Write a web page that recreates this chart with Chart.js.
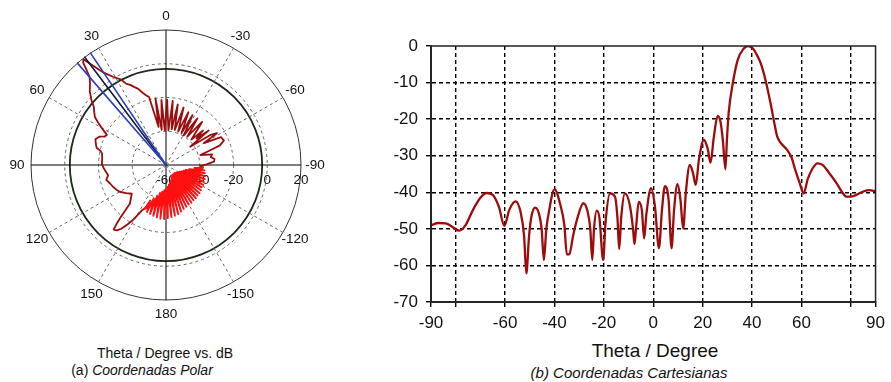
<!DOCTYPE html>
<html>
<head>
<meta charset="utf-8">
<script src="https://cdn.jsdelivr.net/npm/chart.js@4.4.1/dist/chart.umd.min.js"></script>
<style>
  html, body { margin: 0; padding: 0; background: #fff; }
  body { width: 891px; height: 382px; position: relative; overflow: hidden;
         font-family: "Liberation Sans", Arial, sans-serif; color: #111; }
  canvas { position: absolute; }
  #polar { left: 0; top: 0; }
  #cart { left: 380px; top: 0; }
  .txt { position: absolute; white-space: nowrap; line-height: 1; transform: translateX(-50%); }
</style>
</head>
<body>
<canvas id="polar" width="332" height="330"></canvas>
<canvas id="cart" width="511" height="340"></canvas>
<div class="txt" style="left:165px; top:346px; font-size:14px;">Theta / Degree vs. dB</div>
<div class="txt" style="left:142px; top:363px; font-size:14px;">(a) <i>Coordenadas Polar</i></div>
<div class="txt" style="left:655px; top:341px; font-size:19px;">Theta / Degree</div>
<div class="txt" style="left:629px; top:365px; font-size:15px;"><i>(b) Coordenadas Cartesianas</i></div>
<script>
// polar cut, theta in degrees (positive = counter clockwise from top)
const polar_Min = -60;
const polar_Max = 20;
const polar_Rings = [-60, -40, -20, 0, 20];
const half_Power_Db = -3;
const angle_Ticks = [0, 30, 60, 90, 120, 150, 180, -150, -120, -90, -60, -30];

const dark_Theta = [
  -94, -92, -89, -86, -83, -80, -77, -74, -72, -70, -67, -63, -60, -58, -56, -53, -51, -49, -47, -45,
  -40, -37, -34, -31, -28, -26, -23, -20, -17, -14, -11, -9, -6, -4, -1, 2, 4, 7, 9, 11,
  14, 16, 18, 20, 22, 24, 26, 28, 31, 34, 36, 38, 39, 40, 41, 43, 46, 49, 51, 54,
  56, 58, 60, 63, 65, 67, 70, 73, 76, 78, 80, 84, 89, 92, 96, 100, 104, 108, 112, 116,
  120, 125, 130, 134, 137, 139, 140, 141, 143, 145, 147, 149, 151, 152
];
const dark_Db = [
  -38, -39.5, -36, -31.5, -31, -33, -32, -38.8, -34, -26, -22.7, -23.5, -34, -24.4, -28, -42, -27.4, -36, -30, -38.7,
  -26.7, -39, -26.7, -39.5, -26.5, -39, -26, -39, -24.5, -38.5, -23.5, -38.5, -21.8, -39.5, -21.2, -39.5, -21.4, -39, -20.1, -37,
  -18.5, -17, -15, -12, -10.2, -8, -6.5, -2.5, 1, 6, 12, 19.5, 18, 13, 9, 6, 2.8, -1.5, -4.9, -7.5,
  -9.2, -12.5, -16, -20.7, -20, -17, -15.5, -16.5, -17.6, -20.5, -21.5, -22, -22, -22.8, -24, -25.2, -23.5, -25, -26, -27,
  -28.3, -31, -33.5, -31, -28.6, -19, -14.5, -10.8, -11.5, -13.9, -18, -22, -27, -29.4
];

// dense back lobe ripple (bright red)
const fan_Theta = [
  154, 156, 158, 160, 162, 164, 166, 168, 170, 172, 174, 176, 178, 180,
  -178, -176, -174, -172, -170, -168, -166, -164, -162, -160, -158, -156, -154, -152, -150, -148,
  -146, -144, -142, -140, -138, -136, -134, -132, -130, -128, -126, -124, -122, -120, -118, -116,
  -114, -112, -110, -108, -106, -104, -102, -100, -98, -96, -94
];
const fan_Db = [
  -31, -37, -30, -39, -29.5, -41, -29, -43, -28.5, -44, -28, -45, -28, -46,
  -28.5, -47, -29, -48, -29.5, -49, -30, -50, -31, -51, -32, -52, -32.5, -52.5, -33, -53,
  -33, -53, -33.5, -53, -33.5, -53, -34, -53, -34, -52.5, -34.5, -52, -35, -51.5, -35, -51,
  -35.5, -50, -35.5, -49, -36, -48, -36.5, -46, -37, -43, -38
];

// main beam direction and 3 dB edges
const beam_Edges = [41, 34];
const beam_Main = [37];

// cartesian cut
const cart_Theta = [
  -90, -87, -84, -81, -78.5, -76, -73, -70, -67.5, -65, -62.5, -60.3, -58.3, -55.7, -53.6, -52.3, -51.4, -50.3, -49.3, -47.8,
  -46.3, -45.2, -44.3, -43.3, -42.3, -40, -37.6, -36, -35, -34, -32.5, -30.9, -28.3, -26.5, -25.5, -24.7, -24, -22.9, -21.8, -20.3,
  -19.3, -17.5, -15.5, -14.5, -13.8, -13, -11.5, -9.5, -8.2, -7.6, -7, -5.9, -4.6, -3.7, -2.8, -0.9, 0.7, 2.3, 3.5, 4.7,
  6.2, 7.4, 8.4, 9.8, 11, 12.1, 13.2, 14.8, 16, 17.2, 18.5, 20.5, 22, 23.2, 24.5, 26.1, 27.3, 28.2, 29.2, 29.8,
  30.5, 32.2, 34.2, 36.5, 38.5, 40.5, 42, 43.5, 45.5, 47.5, 49, 50.2, 52, 54.2, 56, 57.5, 59.3, 60.9, 62.5, 64.5,
  66.5, 68.5, 71, 74.2, 76.5, 78.2, 80, 82.2, 85, 87.4, 90
];
const cart_Db = [
  -49, -48.4, -48.5, -49.6, -50.5, -49, -44.8, -41.5, -40.2, -40.7, -44, -49.2, -44.8, -42.5, -45.8, -52, -62.2, -52, -46.5, -44.2,
  -45.8, -50, -58.5, -50, -45.5, -39.2, -43.5, -49, -57, -57, -52, -47.5, -43, -45.5, -50, -58.5, -50, -45, -47, -58.5,
  -48, -40.3, -41.2, -47, -55.5, -47, -40.3, -43.5, -50, -54.2, -50, -42.6, -45, -52.6, -46, -38.9, -44, -55.3, -45, -38.3,
  -42, -55.3, -45, -37.8, -42, -49.9, -40, -32.5, -34.5, -38, -31, -25.7, -28, -31.9, -25, -19.1, -21, -26, -33.7, -26,
  -18.5, -10.2, -3.8, -0.8, 0, -0.8, -2.5, -4.7, -9.5, -15.7, -21, -24.8, -26.8, -28.4, -30.5, -33.9, -37.5, -40.3, -36.5, -33.5,
  -32.1, -32.5, -34.5, -37.5, -40, -41.2, -41.2, -40.7, -39.8, -39.4, -39.8
];
const x_Ticks = [-90, -80, -60, -40, -20, 0, 20, 40, 60, 80, 90];
const x_Tick_Labels = [-90, -60, -40, -20, 0, 20, 40, 60, 90];
const y_Ticks = [0, -10, -20, -30, -40, -50, -60, -70];

const label_Font = '"Liberation Sans", Arial, sans-serif';

// radar helpers: one label per degree, index i sits at theta = -i
const n_Steps = 360;
function radar_Index(theta) {
  return ((Math.round(-theta) % n_Steps) + n_Steps) % n_Steps;
}
function radar_Data(thetas, values) {
  const out = new Array(n_Steps).fill(null);
  thetas.forEach((t, i) => { out[radar_Index(t)] = values[i]; });
  return out;
}
function beam_Data(thetas) {
  const out = new Array(n_Steps).fill(null);
  thetas.forEach((t) => {
    out[radar_Index(t)] = polar_Max;
    out[radar_Index(t - 1)] = polar_Min;
  });
  return out;
}

const polar_Labels = {
  id: 'polar_Labels',
  beforeDatasetsDraw(chart) {
    const r = chart.scales.r;
    const ctx = chart.ctx;
    ctx.save();
    ctx.font = '13.5px ' + label_Font;
    ctx.fillStyle = '#111';
    ctx.textAlign = 'center';
    ctx.textBaseline = 'middle';
    polar_Rings.forEach((v) => {
      const d = r.getDistanceFromCenterForValue(v);
      ctx.fillText(String(v), r.xCenter + d, r.yCenter + 15);
    });
    angle_Ticks.forEach((t) => {
      const p = r.getPointPosition(radar_Index(t), r.drawingArea + 14);
      ctx.fillText(String(t), p.x, p.y);
    });
    ctx.restore();
  }
};

const line_Base = {
  fill: false,
  spanGaps: true,
  pointRadius: 0,
  pointHoverRadius: 0,
  pointHitRadius: 0,
  borderJoinStyle: 'round'
};

new Chart(document.getElementById('polar'), {
  type: 'radar',
  data: {
    labels: Array.from({ length: n_Steps }, (_, i) => i),
    datasets: [
      { ...line_Base, data: beam_Data(beam_Edges), borderColor: '#2a3fb5', borderWidth: 1.6 },
      { ...line_Base, data: beam_Data(beam_Main), borderColor: '#141a3c', borderWidth: 1.6 },
      { ...line_Base, data: radar_Data(fan_Theta, fan_Db), borderColor: '#ff1010', borderWidth: 1.9 },
      { ...line_Base, data: radar_Data(dark_Theta, dark_Db), borderColor: '#9b0d0d', borderWidth: 1.8 }
    ]
  },
  options: {
    responsive: false,
    animation: false,
    events: [],
    layout: { padding: { left: 31, right: 31, top: 30, bottom: 30 } },
    plugins: { legend: { display: false }, tooltip: { enabled: false } },
    scales: {
      r: {
        min: polar_Min,
        max: polar_Max,
        ticks: { display: false, stepSize: 20 },
        afterBuildTicks: (s) => { s.ticks.push({ value: half_Power_Db }); },
        pointLabels: { display: false },
        grid: {
          circular: true,
          color: (c) => {
            if (!c.tick) return '#666';
            if (c.tick.value === half_Power_Db) return '#1a2a16';
            return c.tick.value === polar_Max ? '#333' : '#666';
          },
          lineWidth: (c) => (c.tick && c.tick.value === half_Power_Db ? 1.8 : 1)
        },
        border: {
          dash: (c) => (c.tick && (c.tick.value === polar_Max || c.tick.value === half_Power_Db) ? [] : [3, 3])
        },
        angleLines: {
          color: (c) => (c.index % 90 === 0 ? '#000' : '#666'),
          lineWidth: (c) => (c.index % 30 === 0 ? 1 : 0),
          borderDash: (c) => (c.index % 90 === 0 ? [] : [3, 3])
        }
      }
    }
  },
  plugins: [polar_Labels]
});

const plot_Frame = {
  id: 'plot_Frame',
  afterDatasetsDraw(chart) {
    const a = chart.chartArea;
    const ctx = chart.ctx;
    ctx.save();
    ctx.strokeStyle = '#222';
    ctx.lineWidth = 1.5;
    ctx.strokeRect(a.left, a.top, a.right - a.left, a.bottom - a.top);
    ctx.restore();
  }
};

const tick_Font = { family: label_Font, size: 17 };

new Chart(document.getElementById('cart'), {
  type: 'line',
  data: {
    datasets: [{
      data: cart_Theta.map((t, i) => ({ x: t, y: cart_Db[i] })),
      borderColor: '#9e0b0b',
      borderWidth: 2.3,
      pointRadius: 0,
      fill: false,
      cubicInterpolationMode: 'monotone'
    }]
  },
  options: {
    responsive: false,
    animation: false,
    events: [],
    layout: { padding: { left: 11, right: 11, top: 46, bottom: 8 } },
    plugins: { legend: { display: false }, tooltip: { enabled: false } },
    scales: {
      x: {
        type: 'linear',
        min: -90,
        max: 90,
        afterBuildTicks: (s) => { s.ticks = x_Ticks.map((v) => ({ value: v })); },
        afterFit: (s) => { s.height = 30; },
        ticks: {
          callback: (v) => (x_Tick_Labels.includes(v) ? String(v) : ''),
          font: tick_Font, color: '#111', padding: 6, maxRotation: 0, autoSkip: false
        },
        grid: {
          color: (c) => (c.tick && Math.abs(c.tick.value) === 90 ? 'rgba(0,0,0,0)' : '#000'),
          lineWidth: 1.4, tickColor: '#000', tickLength: 5, tickWidth: 1.4
        },
        border: { color: '#333', width: 2, dash: [4, 3] }
      },
      y: {
        min: -70,
        max: 0,
        afterBuildTicks: (s) => { s.ticks = y_Ticks.map((v) => ({ value: v })); },
        afterFit: (s) => { s.width = 40; },
        ticks: { font: tick_Font, color: '#111', padding: 8 },
        grid: {
          color: (c) => (c.tick && (c.tick.value === 0 || c.tick.value === -70) ? 'rgba(0,0,0,0)' : '#000'),
          lineWidth: 1.4, tickColor: '#000', tickLength: 5, tickWidth: 1.4
        },
        border: { color: '#333', width: 2, dash: [4, 3] }
      }
    }
  },
  plugins: [plot_Frame]
});
</script>
</body>
</html>
